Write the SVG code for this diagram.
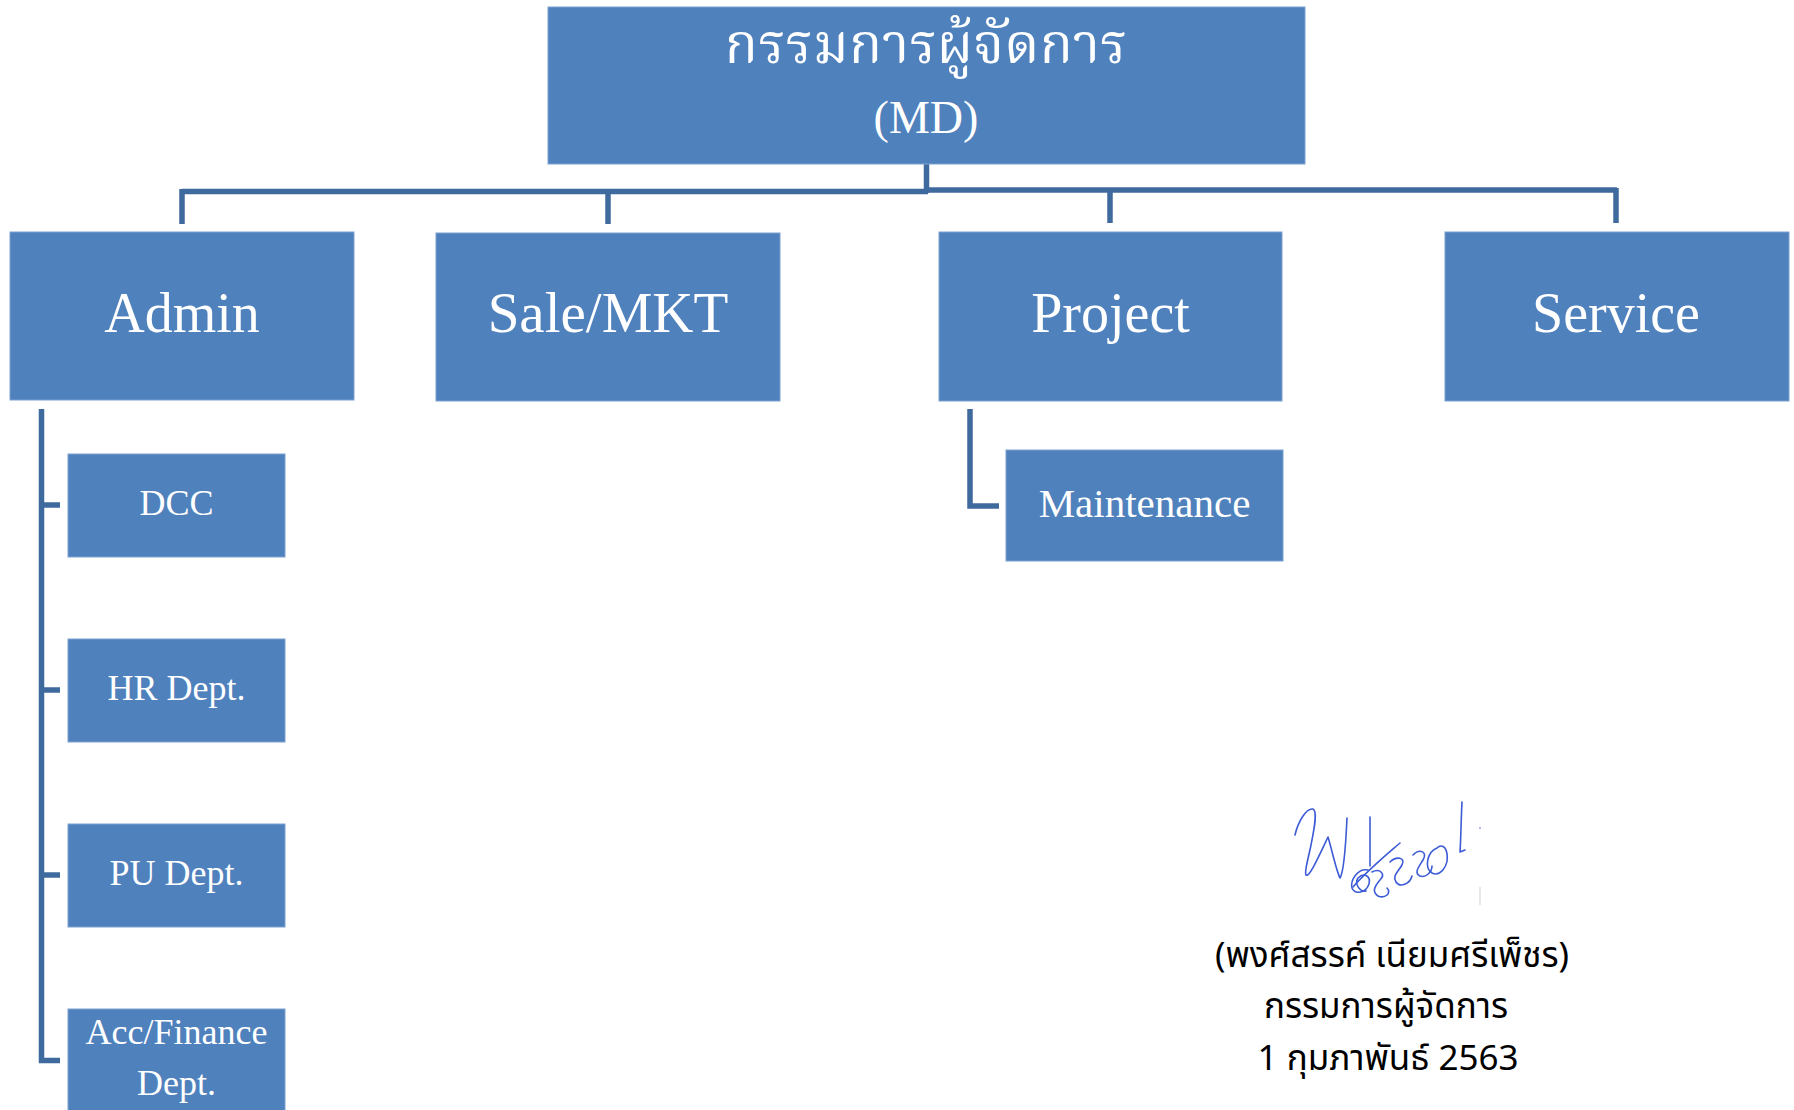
<svg xmlns="http://www.w3.org/2000/svg" width="1794" height="1110" viewBox="0 0 1794 1110">
<style>
.box{fill:#4F81BD;stroke:#7FA1D0;stroke-width:1}
.lbl{fill:#FFFFFF;font-family:"Liberation Serif","Noto Serif Thai","Noto Sans Thai",serif;text-anchor:middle}
.th{fill:#FFFFFF;font-family:"Noto Serif Thai","Noto Sans Thai","Liberation Serif",serif;text-anchor:middle}
.conn{fill:none;stroke:#3F6A9E;stroke-width:5.5;stroke-linecap:butt;stroke-linejoin:miter}
.sig{fill:none;stroke:#3D5BD6;stroke-width:1.6;stroke-linecap:round;stroke-linejoin:round}
.foot{fill:#000000;font-family:"Noto Sans Thai","Liberation Sans",sans-serif;font-size:35px;text-anchor:middle}
</style>
<rect width="1794" height="1110" fill="#FFFFFF"/>
<g id="connectors">
<path class="conn" d="M926.5,164 V193"/>
<path class="conn" d="M182,191.5 H928"/>
<path class="conn" d="M925,190 H1617"/>
<path class="conn" d="M182,189 V224"/>
<path class="conn" d="M608,189 V224"/>
<path class="conn" d="M1110,188 V223"/>
<path class="conn" d="M1616,188 V223"/>
<path class="conn" d="M41.5,409 V1060.5 H60"/>
<path class="conn" d="M41.5,505 H60"/>
<path class="conn" d="M41.5,690 H60"/>
<path class="conn" d="M41.5,875 H60"/>
<path class="conn" d="M970,409 V506 H999"/>
</g>
<g id="node-md">
<rect class="box" x="548" y="7" width="757" height="157"/>
<text class="th" x="926" y="63" font-size="55">กรรมการผู้จัดการ</text>
<text class="lbl" x="926" y="133" font-size="46">(MD)</text>
</g>
<g id="node-admin">
<rect class="box" x="10" y="232" width="344" height="168"/>
<text class="lbl" x="182" y="332" font-size="56">Admin</text>
</g>
<g id="node-sale">
<rect class="box" x="436" y="233" width="344" height="168"/>
<text class="lbl" x="608" y="332" font-size="57">Sale/MKT</text>
</g>
<g id="node-project">
<rect class="box" x="939" y="232" width="343" height="169"/>
<text class="lbl" x="1110.5" y="332" font-size="56">Project</text>
</g>
<g id="node-service">
<rect class="box" x="1445" y="232" width="344" height="169"/>
<text class="lbl" x="1616" y="332" font-size="56">Service</text>
</g>
<g id="node-dcc">
<rect class="box" x="68" y="454" width="217" height="103"/>
<text class="lbl" x="176.5" y="515" font-size="36">DCC</text>
</g>
<g id="node-hr">
<rect class="box" x="68" y="639" width="217" height="103"/>
<text class="lbl" x="176.5" y="700" font-size="36">HR Dept.</text>
</g>
<g id="node-pu">
<rect class="box" x="68" y="824" width="217" height="103"/>
<text class="lbl" x="176.5" y="885" font-size="36">PU Dept.</text>
</g>
<g id="node-acc">
<rect class="box" x="68" y="1009" width="217" height="110"/>
<text class="lbl" x="176.5" y="1044" font-size="36">Acc/Finance</text>
<text class="lbl" x="176.5" y="1095" font-size="36">Dept.</text>
</g>
<g id="node-maintenance">
<rect class="box" x="1006" y="450" width="277" height="111"/>
<text class="lbl" x="1144.5" y="517" font-size="41">Maintenance</text>
</g>
<g id="signature">
<path class="sig" d="M1295,835 C1298,822 1306,808 1313,809 C1318,811 1314,830 1311,845 C1308,860 1304,872 1306,875 C1309,878 1318,858 1328,837 C1332,850 1336,870 1340,878 C1344,872 1346,840 1347,818"/>
<path class="sig" d="M1370,817 L1370,866"/>
<path class="sig" d="M1353,887 C1368,870 1385,856 1400,843"/>
<path class="sig" d="M1368,870 C1358,868 1350,880 1352,888 C1355,895 1366,893 1369,884 C1371,876 1364,872 1358,878 C1354,884 1360,892 1366,891 M1372,872 C1380,868 1386,874 1380,880 C1374,887 1372,892 1378,896 C1385,899 1392,893 1387,888"/>
<path class="sig" d="M1390,862 C1396,856 1406,857 1402,865 C1398,872 1392,876 1396,882 C1400,888 1410,884 1412,876"/>
<path class="sig" d="M1413,855 C1420,848 1428,852 1423,860 C1418,868 1414,873 1420,876 C1426,878 1432,872 1432,866"/>
<path class="sig" d="M1437,848 C1427,852 1424,868 1432,873 C1440,877 1449,866 1447,854 C1446,846 1441,844 1437,848"/>
<path class="sig" d="M1462,802 C1461,820 1461,838 1460,852 L1465,850"/>
<circle cx="1480" cy="828" r="0.9" fill="#8A97C8"/>
<path d="M1480,887 V905" stroke="#D8D8D8" stroke-width="1.2" fill="none"/>
</g>
<g id="footer">
<text class="foot" x="1392" y="967">(พงศ์สรรค์ เนียมศรีเพ็ชร)</text>
<text class="foot" x="1386" y="1018">กรรมการผู้จัดการ</text>
<text class="foot" x="1388" y="1070">1 กุมภาพันธ์ 2563</text>
</g>
</svg>
